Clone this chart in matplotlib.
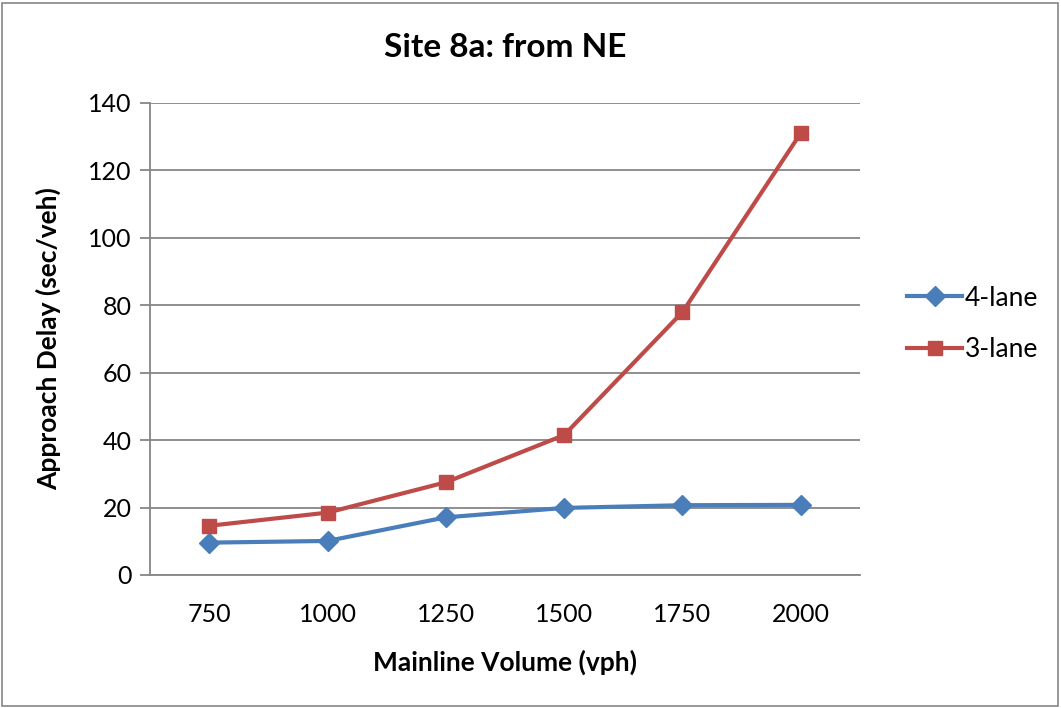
import matplotlib.pyplot as plt
from matplotlib.patches import Rectangle

plt.rcParams['font.family'] = ['Lato', 'DejaVu Sans']

volumes = ['750', '1000', '1250', '1500', '1750', '2000']
delay_4lane = [9.6, 10.1, 17.1, 19.9, 20.7, 20.8]
delay_3lane = [14.6, 18.5, 27.5, 41.5, 78.0, 131.1]
y_ticks = [0, 20, 40, 60, 80, 100, 120, 140]

blue = '#4A7EBB'
red = '#BE4B48'
grid_gray = '#868686'

fig = plt.figure(figsize=(10.61, 7.08), dpi=100)
ax = fig.add_axes([150 / 1061, 1 - 575 / 708, 710 / 1061, 472 / 708])

x = range(len(volumes))
ax.plot(x, delay_4lane, color=blue, lw=3, marker='D', markersize=10, label='4-lane')
ax.plot(x, delay_3lane, color=red, lw=3, marker='s', markersize=10, label='3-lane')

ax.set_xlim(-0.5, len(volumes) - 0.5)
ax.set_ylim(0, 140)
ax.set_yticks(y_ticks)
ax.set_xticks(list(x))
ax.set_xticklabels(volumes)

# horizontal gridlines only, drawn behind the series
ax.grid(axis='y', color=grid_gray, lw=1.3)
ax.set_axisbelow(True)
for side in ['top', 'right']:
    ax.spines[side].set_visible(False)
ax.spines['left'].set_color(grid_gray)
ax.spines['bottom'].set_color(grid_gray)
ax.spines['left'].set_linewidth(1.3)
ax.spines['bottom'].set_linewidth(1.3)
ax.tick_params(axis='y', length=7, width=1.3, color=grid_gray, labelsize=18, pad=6)
ax.tick_params(axis='x', length=0, labelsize=18, pad=20)

ax.set_title('Site 8a: from NE', fontsize=24, fontweight='bold', pad=33)
ax.set_xlabel('Mainline Volume (vph)', fontsize=19, fontweight='bold', labelpad=17)
ax.set_ylabel('Approach Delay (sec/veh)', fontsize=19, fontweight='bold', labelpad=20)

ax.legend(loc='center left', bbox_to_anchor=(1.066, 0.532), frameon=False,
          fontsize=19, handlelength=2.1, handletextpad=0.1, labelspacing=1.0,
          borderpad=0, borderaxespad=0)

# chart border
fig.patches.append(Rectangle((2 / 1061, 2 / 708), 1 - 5 / 1061, 1 - 5 / 708,
                             transform=fig.transFigure, fill=False,
                             edgecolor='#868686', lw=1.2))

fig.savefig('out.png', dpi=100)
